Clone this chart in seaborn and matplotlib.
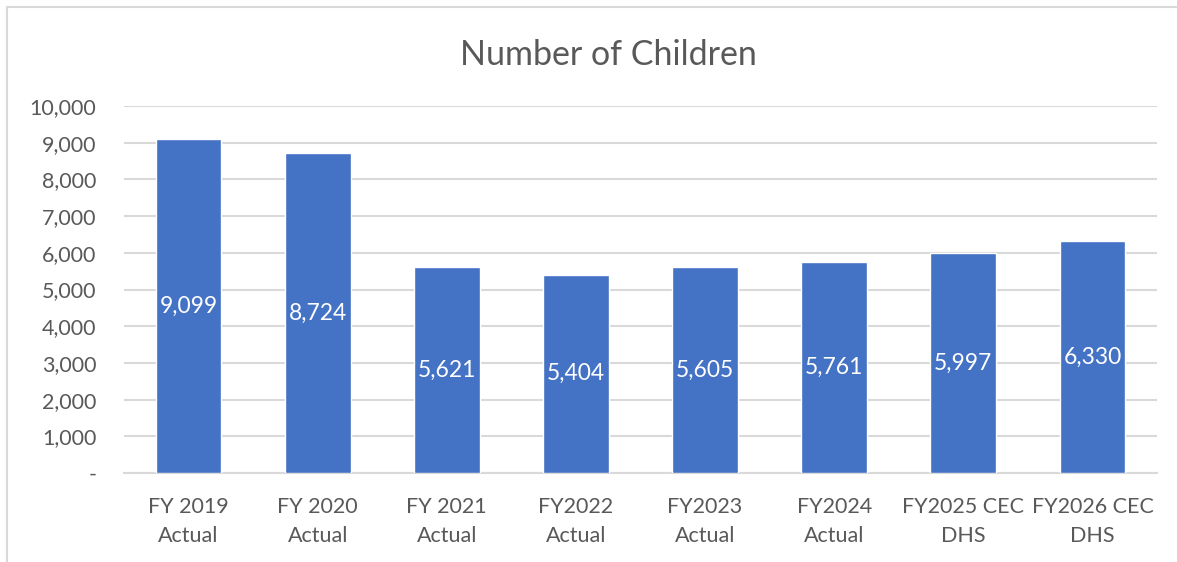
import matplotlib
matplotlib.use("Agg")
import matplotlib.pyplot as plt
from matplotlib.lines import Line2D
from matplotlib.ticker import FuncFormatter
import seaborn as sns
import pandas as pd

categories = ["FY 2019\nActual", "FY 2020\nActual", "FY 2021\nActual", "FY2022\nActual",
              "FY2023\nActual", "FY2024\nActual", "FY2025 CEC\nDHS", "FY2026 CEC\nDHS"]
children = [9099, 8724, 5621, 5404, 5605, 5761, 5997, 6330]
y_ticks = [0, 1000, 2000, 3000, 4000, 5000, 6000, 7000, 8000, 9000, 10000]

sns.set_theme(style="white")
plt.rcParams["font.family"] = ["Lato", "DejaVu Sans"]

df = pd.DataFrame({"category": categories, "children": children})

fig = plt.figure(figsize=(11.77, 5.62), dpi=100)
ax = fig.add_axes([124 / 1177, 1 - 473 / 562, (1157 - 124) / 1177, (473 - 106) / 562])

sns.barplot(data=df, x="category", y="children", color="#4472C4", width=0.51,
            saturation=1, ax=ax, zorder=3)

ax.set_ylim(0, 10000)
ax.set_xlim(-0.5, len(categories) - 0.5)
ax.set_yticks(y_ticks)
ax.yaxis.set_major_formatter(FuncFormatter(lambda v, p: "-" if v == 0 else f"{int(v):,}"))
ax.grid(axis="y", color="#D9D9D9", linewidth=1.5, zorder=0)
ax.set_axisbelow(True)
for side in ["top", "right", "left"]:
    ax.spines[side].set_visible(False)
ax.spines["bottom"].set_color("#D9D9D9")
ax.spines["bottom"].set_linewidth(1.5)
ax.tick_params(axis="y", length=0, labelsize=15.5, colors="#595959", pad=20)
ax.tick_params(axis="x", length=0, labelsize=15.5, colors="#595959", pad=17)
for lbl in ax.get_xticklabels():
    lbl.set_linespacing(1.6)
ax.set_xlabel("")
ax.set_ylabel("")

for i, v in enumerate(children):
    ax.text(i, v / 2, f"{v:,}", ha="center", va="center", color="white", fontsize=16.5)

fig.text(608 / 1177, 1 - 55 / 562, "Number of Children", ha="center", va="center",
         fontsize=24.5, color="#595959")

# chart frame along top and left edges
fig.add_artist(Line2D([7 / 1177, 1], [1 - 7 / 562, 1 - 7 / 562], transform=fig.transFigure,
                      color="#D9D9D9", linewidth=1.5))
fig.add_artist(Line2D([7 / 1177, 7 / 1177], [0, 1 - 7 / 562], transform=fig.transFigure,
                      color="#D9D9D9", linewidth=1.5))

fig.savefig("out.png", dpi=100)
